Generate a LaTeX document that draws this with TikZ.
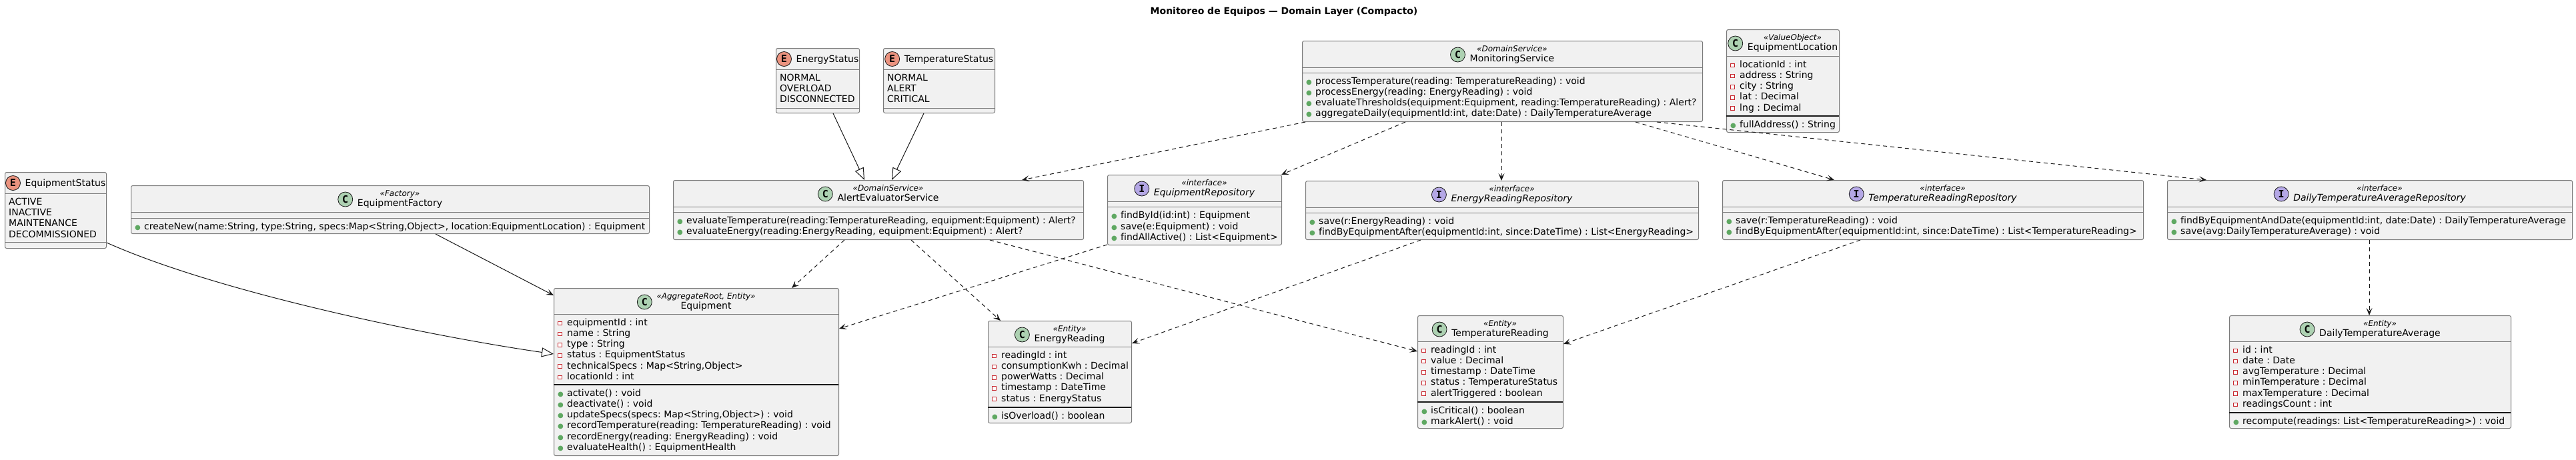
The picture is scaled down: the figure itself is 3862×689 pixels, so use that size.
\documentclass[tikz,border=0pt]{standalone}
\usepackage{fontspec}
\setmainfont{DejaVu Sans}[Ligatures=NoCommon]
\newfontfamily\badgefont{DejaVu Sans Mono}
\usetikzlibrary{arrows.meta,positioning,calc}
\frenchspacing

\definecolor{boxfill}{HTML}{F1F1F1}
\definecolor{boxline}{HTML}{7A7A7A}
\definecolor{linec}{HTML}{181818}
\definecolor{classc}{HTML}{ADD1B2}
\definecolor{enumc}{HTML}{EB937F}
\definecolor{ifacec}{HTML}{B4A7E5}
\definecolor{privred}{HTML}{C82930}
\definecolor{pubgreen}{HTML}{5FA862}

\newcommand{\privm}{\makebox[14pt][l]{\raisebox{1.2pt}{\setlength{\fboxsep}{0pt}\setlength{\fboxrule}{1pt}\fcolorbox{privred}{white}{\rule{0pt}{4.5pt}\rule{4.5pt}{0pt}}}}}
\newcommand{\pubm}{\makebox[14pt][l]{\textcolor{pubgreen}{\fontsize{10}{10}\selectfont ●}}}
\newcommand{\stereo}[1]{{\fontsize{12}{15}\selectfont\itshape «#1»}}

\begin{document}
\begin{tikzpicture}[x=1pt, y=-1pt,
  classbox/.style={draw=boxline, fill=boxfill, line width=1pt, rounded corners=2.5pt, inner sep=0pt, anchor=north west},
  hdr/.style={inner sep=0pt, anchor=north, align=center, font=\fontsize{14}{15}\selectfont},
  enumhdr/.style={inner sep=0pt, anchor=base, font=\fontsize{14}{15}\selectfont},
  members/.style={inner sep=0pt, anchor=north west, align=left, font=\fontsize{14}{16.2}\selectfont},
  badge/.style={circle, draw=linec, line width=0.8pt, minimum size=22pt, inner sep=0pt, font=\badgefont\bfseries\fontsize{15}{15}\selectfont},
  badgeC/.style={badge, fill=classc},
  badgeE/.style={badge, fill=enumc},
  badgeI/.style={badge, fill=ifacec},
  hsep/.style={draw=boxline, line width=1pt},
  msep/.style={draw=linec, line width=1.4pt},
  dep/.style={draw=linec, line width=1pt, dash pattern=on 6pt off 5pt, -{Stealth[length=11pt, width=9pt, inset=5pt]}},
  assoc/.style={draw=linec, line width=1pt, -{Stealth[length=11pt, width=9pt, inset=5pt]}},
  gen/.style={draw=linec, line width=1pt, -{Triangle[length=18pt, width=14pt, fill=white]}}]

\fill[white] (0,0) rectangle (3862,689);
\useasboundingbox (0,0) rectangle (3862,689);

\node[font=\fontsize{14}{16}\selectfont\bfseries] (title) at (1925,18) {Monitoreo de Equipos — Domain Layer (Compacto)};

% top row
\node[classbox, minimum width=125pt, minimum height=97pt] (ens) at (1163,72) {};
\node[enumhdr] (ens-h) at (1240.5,93.5) {EnergyStatus};
\node[badgeE] (ens-b) at ($(ens-h.west |- 0,88.5)+(-18,0)$) {E};
\draw[hsep] (1163,104) -- (1288,104);
\node[members] (ens-v) at (1169,110.5) {NORMAL\\OVERLOAD\\DISCONNECTED};
\draw[hsep] (1163,162) -- (1288,162);

\node[classbox, minimum width=167pt, minimum height=97pt] (ts) at (1324,72) {};
\node[enumhdr] (ts-h) at (1422.5,93.5) {TemperatureStatus};
\node[badgeE] (ts-b) at ($(ts-h.west |- 0,88.5)+(-18,0)$) {E};
\draw[hsep] (1324,104) -- (1491,104);
\node[members] (ts-v) at (1330,110.5) {NORMAL\\ALERT\\CRITICAL};
\draw[hsep] (1324,162) -- (1491,162);

\node[classbox, minimum width=600pt, minimum height=121pt] (ms) at (1952,61) {};
\node[hdr] (ms-h) at (2267,68.3) {\stereo{DomainService}\\MonitoringService};
\node[badgeC] (ms-b) at ($(ms-h.west |- 0,82)+(-18,0)$) {C};
\draw[hsep] (1952,101) -- (2552,101);
\draw[hsep] (1952,109) -- (2552,109);
\node[members] (ms-m) at (1958,115.5) {\pubm processTemperature(reading: TemperatureReading) : void\\
  \pubm processEnergy(reading: EnergyReading) : void\\
  \pubm evaluateThresholds(equipment:Equipment, reading:TemperatureReading) : Alert?\\
  \pubm aggregateDaily(equipmentId:int, date:Date) : DailyTemperatureAverage};

\node[classbox, minimum width=169pt, minimum height=154pt] (loc) at (2588,44) {};
\node[hdr] (loc-h) at (2687.5,51.3) {\stereo{ValueObject}\\EquipmentLocation};
\node[badgeC] (loc-b) at ($(loc-h.west |- 0,65)+(-18,0)$) {C};
\draw[hsep] (2588,84) -- (2757,84);
\node[members] (loc-a) at (2594,90.5) {\privm locationId : int\\\privm address : String\\\privm city : String\\\privm lat : Decimal\\\privm lng : Decimal};
\draw[msep] (2588,174) -- (2757,174);
\node[members] (loc-m) at (2594,180.5) {\pubm fullAddress() : String};

% middle row
\node[classbox, minimum width=152pt, minimum height=114pt] (es) at (7,258) {};
\node[enumhdr] (es-h) at (98,279.5) {EquipmentStatus};
\node[badgeE] (es-b) at ($(es-h.west |- 0,274.5)+(-18,0)$) {E};
\draw[hsep] (7,290.5) -- (159,290.5);
\node[members] (es-v) at (13,297) {ACTIVE\\INACTIVE\\MAINTENANCE\\DECOMMISSIONED};
\draw[hsep] (7,363) -- (159,363);

\node[classbox, minimum width=777pt, minimum height=72pt] (ef) at (196,278) {};
\node[hdr] (ef-h) at (599.5,285.3) {\stereo{Factory}\\EquipmentFactory};
\node[badgeC] (ef-b) at ($(ef-h.west |- 0,299)+(-18,0)$) {C};
\draw[hsep] (196,318) -- (973,318);
\draw[hsep] (196,327) -- (973,327);
\node[members] (ef-m) at (202,333.5) {\pubm createNew(name:String, type:String, specs:Map<String,Object>, location:EquipmentLocation) : Equipment};

\node[classbox, minimum width=615pt, minimum height=89pt] (aes) at (1009,270) {};
\node[hdr] (aes-h) at (1331.5,277.3) {\stereo{DomainService}\\AlertEvaluatorService};
\node[badgeC] (aes-b) at ($(aes-h.west |- 0,291)+(-18,0)$) {C};
\draw[hsep] (1009,310) -- (1624,310);
\draw[hsep] (1009,318) -- (1624,318);
\node[members] (aes-m) at (1015,324.5) {\pubm evaluateTemperature(reading:TemperatureReading, equipment:Equipment) : Alert?\\
  \pubm evaluateEnergy(reading:EnergyReading, equipment:Equipment) : Alert?};

\node[classbox, minimum width=261pt, minimum height=105pt] (er) at (1660,262) {};
\node[hdr] (er-h) at (1805.5,269.3) {\stereo{interface}\\\itshape EquipmentRepository};
\node[badgeI] (er-b) at ($(er-h.west |- 0,283)+(-18,0)$) {I};
\draw[hsep] (1660,302) -- (1921,302);
\draw[hsep] (1660,310.5) -- (1921,310.5);
\node[members] (er-m) at (1666,317) {\pubm findById(id:int) : Equipment\\\pubm save(e:Equipment) : void\\\pubm findAllActive() : List<Equipment>};

\node[classbox, minimum width=589pt, minimum height=88pt] (err) at (1957,271) {};
\node[hdr] (err-h) at (2266.5,278.3) {\stereo{interface}\\\itshape EnergyReadingRepository};
\node[badgeI] (err-b) at ($(err-h.west |- 0,292)+(-18,0)$) {I};
\draw[hsep] (1957,311) -- (2546,311);
\draw[hsep] (1957,319) -- (2546,319);
\node[members] (err-m) at (1963,325.5) {\pubm save(r:EnergyReading) : void\\
  \pubm findByEquipmentAfter(equipmentId:int, since:DateTime) : List<EnergyReading>};

\node[classbox, minimum width=631pt, minimum height=89pt] (trr) at (2582,270) {};
\node[hdr] (trr-h) at (2912.5,277.3) {\stereo{interface}\\\itshape TemperatureReadingRepository};
\node[badgeI] (trr-b) at ($(trr-h.west |- 0,291)+(-18,0)$) {I};
\draw[hsep] (2582,310) -- (3213,310);
\draw[hsep] (2582,318) -- (3213,318);
\node[members] (trr-m) at (2588,324.5) {\pubm save(r:TemperatureReading) : void\\
  \pubm findByEquipmentAfter(equipmentId:int, since:DateTime) : List<TemperatureReading>};

\node[classbox, minimum width=607pt, minimum height=89pt] (dtar) at (3249,270) {};
\node[hdr] (dtar-h) at (3567.5,277.3) {\stereo{interface}\\\itshape DailyTemperatureAverageRepository};
\node[badgeI] (dtar-b) at ($(dtar-h.west |- 0,291)+(-18,0)$) {I};
\draw[hsep] (3249,310) -- (3856,310);
\draw[hsep] (3249,318) -- (3856,318);
\node[members] (dtar-m) at (3255,324.5) {\pubm findByEquipmentAndDate(equipmentId:int, date:Date) : DailyTemperatureAverage\\
  \pubm save(avg:DailyTemperatureAverage) : void};

% bottom row
\node[classbox, minimum width=427pt, minimum height=251pt] (eq) at (830,432) {};
\node[hdr] (eq-h) at (1058.5,439.3) {\stereo{AggregateRoot, Entity}\\Equipment};
\node[badgeC] (eq-b) at ($(eq-h.west |- 0,453)+(-18,0)$) {C};
\draw[hsep] (830,471) -- (1257,471);
\node[members] (eq-a) at (836,477.5) {\privm equipmentId : int\\\privm name : String\\\privm type : String\\
  \privm status : EquipmentStatus\\\privm technicalSpecs : Map<String,Object>\\\privm locationId : int};
\draw[msep] (830,577) -- (1257,577);
\node[members] (eq-m) at (836,583.5) {\pubm activate() : void\\\pubm deactivate() : void\\
  \pubm updateSpecs(specs: Map<String,Object>) : void\\
  \pubm recordTemperature(reading: TemperatureReading) : void\\
  \pubm recordEnergy(reading: EnergyReading) : void\\
  \pubm evaluateHealth() : EquipmentHealth};

\node[classbox, minimum width=215pt, minimum height=153pt] (enr) at (1481,481) {};
\node[hdr] (enr-h) at (1603.5,488.3) {\stereo{Entity}\\EnergyReading};
\node[badgeC] (enr-b) at ($(enr-h.west |- 0,502)+(-18,0)$) {C};
\draw[hsep] (1481,520) -- (1696,520);
\node[members] (enr-a) at (1487,526.5) {\privm readingId : int\\\privm consumptionKwh : Decimal\\\privm powerWatts : Decimal\\
  \privm timestamp : DateTime\\\privm status : EnergyStatus};
\draw[msep] (1481,611) -- (1696,611);
\node[members] (enr-m) at (1487,617.5) {\pubm isOverload() : boolean};

\node[classbox, minimum width=218pt, minimum height=169pt] (tr) at (2125,473) {};
\node[hdr] (tr-h) at (2249,480.3) {\stereo{Entity}\\TemperatureReading};
\node[badgeC] (tr-b) at ($(tr-h.west |- 0,494)+(-18,0)$) {C};
\draw[hsep] (2125,512) -- (2343,512);
\node[members] (tr-a) at (2131,518.5) {\privm readingId : int\\\privm value : Decimal\\\privm timestamp : DateTime\\
  \privm status : TemperatureStatus\\\privm alertTriggered : boolean};
\draw[msep] (2125,603) -- (2343,603);
\node[members] (tr-m) at (2131,609.5) {\pubm isCritical() : boolean\\\pubm markAlert() : void};

\node[classbox, minimum width=422pt, minimum height=169pt] (dta) at (3342,473) {};
\node[hdr] (dta-h) at (3568,480.3) {\stereo{Entity}\\DailyTemperatureAverage};
\node[badgeC] (dta-b) at ($(dta-h.west |- 0,494)+(-18,0)$) {C};
\draw[hsep] (3342,512) -- (3764,512);
\node[members] (dta-a) at (3348,518.5) {\privm id : int\\\privm date : Date\\\privm avgTemperature : Decimal\\
  \privm minTemperature : Decimal\\\privm maxTemperature : Decimal\\\privm readingsCount : int};
\draw[msep] (3342,619) -- (3764,619);
\node[members] (dta-m) at (3348,625.5) {\pubm recompute(readings: List<TemperatureReading>) : void};

% connectors
\draw[gen] ([xshift=86pt]ens.south west) -- ([xshift=287pt]aes.north west);
\draw[gen] ([xshift=61pt]ts.south west) -- ([xshift=328pt]aes.north west);
\draw[gen] ([yshift=9pt]es.south east) .. controls (330,440) and (650,505) .. ([yshift=-99pt]eq.north west);
\draw[assoc] ([xshift=457pt]ef.south west) -- ([yshift=-11pt]eq.north west);
\draw[dep] ([xshift=257pt]aes.south west) -- ([xshift=357pt]eq.north west);
\draw[dep] ([xshift=357pt]aes.south west) -- ([xshift=19pt]enr.north west);
\draw[dep] ([xshift=475pt]aes.south west) -- ([yshift=-54pt]tr.north west);
\draw[dep] ([yshift=1pt]er.south west) -- ([yshift=-61pt]eq.north east);
\draw[dep] ([xshift=173pt]err.south west) -- ([yshift=-34pt]enr.north east);
\draw[dep] ([xshift=207pt]trr.south west) -- ([yshift=-43pt]tr.north east);
\draw[dep] ([xshift=5pt]ms.south west) -- ([xshift=523pt]aes.north west);
\draw[dep] ([xshift=155pt]ms.south west) -- ([xshift=-1pt]er.north east);
\draw[dep] ([xshift=299pt]ms.south west) -- ([xshift=294pt]err.north west);
\draw[dep] ([xshift=500pt]ms.south west) -- ([xshift=168pt]trr.north west);
\draw[dep] ([xshift=532pt]ms.south west) -- ([xshift=59pt]dtar.north west);
\draw[dep] ([xshift=303pt]dtar.south west) -- ([xshift=210pt]dta.north west);

\end{tikzpicture}
\end{document}
